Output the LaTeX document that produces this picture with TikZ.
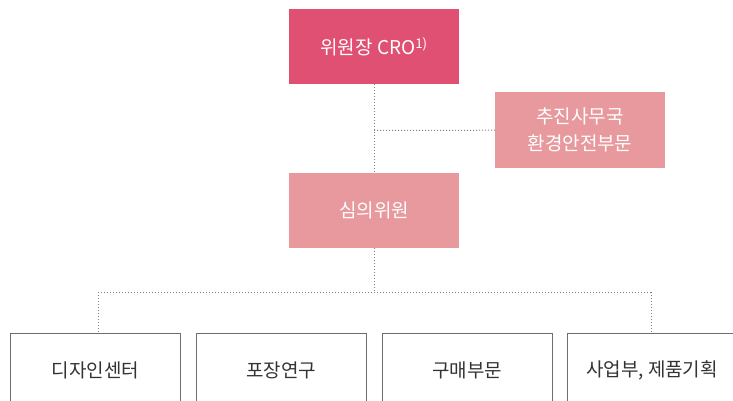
\documentclass[tikz,border=0pt]{standalone}
\usepackage{fontspec}
\setmainfont{Noto Sans CJK KR}
\usepackage{tikz}
\usetikzlibrary{positioning}
\definecolor{mrose}{HTML}{E05073}
\definecolor{mpink}{HTML}{E8999E}
\definecolor{mgrey}{HTML}{6E6E6E}
\definecolor{mtext}{HTML}{333333}
\tikzset{headbox/.style = {text = white, minimum width = 170, minimum height = 75, inner sep = 0, font = \fontsize{19}{24}\selectfont, align = center}}
\tikzset{unitbox/.style = {draw = mgrey, line width = 1, text = mtext, minimum width = 170, minimum height = 75, inner sep = 0, font = \fontsize{19}{24}\selectfont}}
\tikzset{link/.style = {draw = gray, line width = 1, dash pattern = on 1pt off 2pt}}

\begin{document}
\begin{tikzpicture}[x=1pt, y=-1pt]
    \path [use as bounding box, clip] (0, 0) rectangle (733, 401);

    \node [headbox, fill = mrose] (cro) at (374, 46.5) {위원장 CRO\textsuperscript{1)}};
    \node [headbox, fill = mpink, font = \fontsize{19}{27}\selectfont] (office) at (580, 130) {추진사무국\\환경안전부문};
    \node [headbox, fill = mpink] (council) at (374, 210.5) {심의위원};

    \node [unitbox] (design) at (95.5, 370.5) {디자인센터};
    \node [unitbox] (package) at (281, 370.5) {포장연구};
    \node [unitbox] (purchase) at (467, 370.5) {구매부문};
    \node [unitbox] (business) at (652, 370.5) {사업부, 제품기획};

    \coordinate (tee) at (374, 130.5);
    \coordinate (hub) at (374, 292);
    \coordinate (left) at (98, 292);
    \coordinate (right) at (651, 292);

    \draw [link] (cro) -- (council);
    \draw [link] (tee) -- (office);
    \draw [link] (council) -- (hub);
    \draw [link] (left) -- (right);
    \draw [link] (left) -- (design.north -| left);
    \draw [link] (right) -- (business.north -| right);
  \end{tikzpicture}
\end{document}
